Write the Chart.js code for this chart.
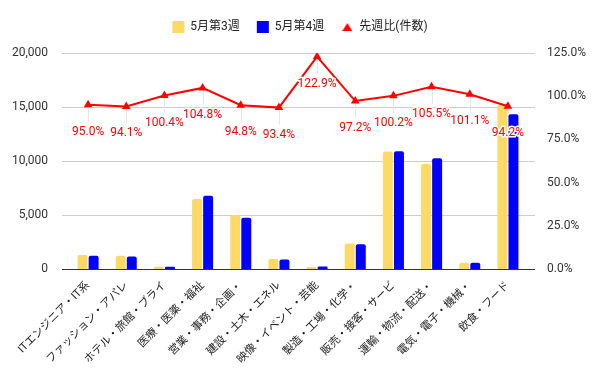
<!DOCTYPE html>
<html>
<head>
<meta charset="utf-8">
<script src="https://cdn.jsdelivr.net/npm/chart.js@4"></script>
<style>
  html, body { margin: 0; padding: 0; background: #fff; }
  #wrap { width: 600px; height: 371px; }
</style>
</head>
<body>
<div id="wrap"><canvas id="comboChart"></canvas></div>
<script>
// カテゴリ（職種）
const categories = ['ITエンジニア・IT系', 'ファッション・アパレ', 'ホテル・旅館・ブライ', '医療・医薬・福祉',
  '営業・事務・企画・', '建設・土木・エネル', '映像・イベント・芸能', '製造・工場・化学・',
  '販売・接客・サービ', '運輸・物流・配送・', '電気・電子・機械・', '飲食・フード'];
const week3 = [1300, 1220, 215, 6480, 5000, 930, 190, 2350, 10880, 9720, 570, 15200];
const week4 = [1235, 1148, 216, 6790, 4740, 869, 234, 2284, 10900, 10255, 576, 14320];
const ratio = [95.0, 94.1, 100.4, 104.8, 94.8, 93.4, 122.9, 97.2, 100.2, 105.5, 101.1, 94.2];
const leftTicks = [0, 5000, 10000, 15000, 20000];
const rightTicks = [0, 25, 50, 75, 100, 125];

const FONT = "Roboto, 'Noto Sans CJK JP', sans-serif";

// 凡例用の小さい三角
const triIcon = document.createElement('canvas');
triIcon.width = 10;
triIcon.height = 8;
(function () {
  const c = triIcon.getContext('2d');
  c.fillStyle = '#ff0000';
  c.beginPath();
  c.moveTo(5, 0);
  c.lineTo(10, 8);
  c.lineTo(0, 8);
  c.closePath();
  c.fill();
})();

// 横のグリッド線・引き出し線・ラベル
const gridPlugin = {
  id: 'grid',
  beforeUpdate(chart) {
    // 凡例の下に余白を足す
    const lg = chart.legend;
    if (lg && !lg._patched) {
      const fit = lg.fit;
      lg.fit = function () {
        fit.call(this);
        this.height += 10;
      };
      lg._patched = true;
    }
  },
  beforeDatasetsDraw(chart) {
    const ctx = chart.ctx;
    const y = chart.scales.y;
    ctx.save();
    leftTicks.forEach(v => {
      const py = Math.round(y.getPixelForValue(v)) + 0.5;
      ctx.strokeStyle = v === 0 ? '#333333' : '#cccccc';
      ctx.lineWidth = 1;
      ctx.beginPath();
      ctx.moveTo(62, py);
      ctx.lineTo(535, py);
      ctx.stroke();
    });
    const meta = chart.getDatasetMeta(2);
    ctx.strokeStyle = '#e6e6e6';
    meta.data.forEach(pt => {
      ctx.beginPath();
      ctx.moveTo(Math.round(pt.x) + 0.5, pt.y);
      ctx.lineTo(Math.round(pt.x) + 0.5, pt.y + 17);
      ctx.stroke();
    });
    ctx.restore();
  },
  afterDatasetsDraw(chart) {
    const ctx = chart.ctx;
    const meta = chart.getDatasetMeta(2);
    ctx.save();
    ctx.font = '12px ' + FONT;
    ctx.textAlign = 'center';
    ctx.textBaseline = 'middle';
    ctx.lineJoin = 'round';
    meta.data.forEach((pt, i) => {
      const txt = ratio[i].toFixed(1) + '%';
      ctx.strokeStyle = '#ffffff';
      ctx.lineWidth = 3;
      ctx.strokeText(txt, pt.x, pt.y + 27);
      ctx.fillStyle = '#ff0000';
      ctx.fillText(txt, pt.x, pt.y + 27);
    });
    ctx.restore();
  }
};

new Chart(document.getElementById('comboChart'), {
  type: 'bar',
  data: {
    labels: categories,
    datasets: [{
      label: '5月第3週',
      data: week3,
      backgroundColor: '#ffd966',
      borderRadius: { topLeft: 2, topRight: 2 },
      borderSkipped: 'bottom',
      pointStyle: 'rect',
      yAxisID: 'y',
      order: 1
    }, {
      label: '5月第4週',
      data: week4,
      backgroundColor: '#0000ff',
      borderRadius: { topLeft: 2, topRight: 2 },
      borderSkipped: 'bottom',
      pointStyle: 'rect',
      yAxisID: 'y',
      order: 1
    }, {
      type: 'line',
      label: '先週比(件数)',
      data: ratio,
      borderColor: '#ff0000',
      backgroundColor: '#ff0000',
      borderWidth: 2,
      tension: 0,
      pointStyle: 'triangle',
      pointRadius: 3,
      yAxisID: 'y1',
      order: 0
    }]
  },
  options: {
    responsive: true,
    maintainAspectRatio: false,
    animation: false,
    datasets: {
      bar: { categoryPercentage: 0.58, barPercentage: 0.9 }
    },
    layout: { padding: { top: 4, left: 0, right: 0, bottom: 0 } },
    plugins: {
      legend: {
        position: 'top',
        labels: {
          usePointStyle: true,
          boxWidth: 12,
          boxHeight: 12,
          padding: 17,
          color: '#222',
          font: { family: FONT, size: 12 },
          sort: (a, b) => a.datasetIndex - b.datasetIndex,
          generateLabels(chart) {
            const items = Chart.defaults.plugins.legend.labels.generateLabels(chart);
            items.forEach(it => {
              if (it.datasetIndex === 2) it.pointStyle = triIcon;
            });
            return items;
          }
        }
      },
      tooltip: { enabled: false }
    },
    scales: {
      x: {
        grid: { display: false },
        border: { display: false },
        ticks: {
          color: '#222',
          font: { family: FONT, size: 11 },
          maxRotation: 45,
          minRotation: 45,
          autoSkip: false,
          padding: 2
        },
        afterFit(scale) { scale.height = 102; }
      },
      y: {
        position: 'left',
        min: 0,
        max: 20000,
        grid: { display: false },
        border: { display: false },
        afterBuildTicks(scale) { scale.ticks = leftTicks.map(v => ({ value: v })); },
        ticks: {
          color: '#333',
          padding: 13,
          font: { family: FONT, size: 12 },
          callback: v => v.toLocaleString('en-US')
        },
        afterFit(scale) { scale.width = 69; }
      },
      y1: {
        position: 'right',
        min: 0,
        max: 125,
        grid: { display: false },
        border: { display: false },
        afterBuildTicks(scale) { scale.ticks = rightTicks.map(v => ({ value: v })); },
        ticks: {
          color: '#333',
          padding: 12,
          font: { family: FONT, size: 12 },
          callback: v => v.toFixed(1) + '%'
        },
        afterFit(scale) { scale.width = 73; }
      }
    }
  },
  plugins: [gridPlugin]
});
</script>
</body>
</html>
